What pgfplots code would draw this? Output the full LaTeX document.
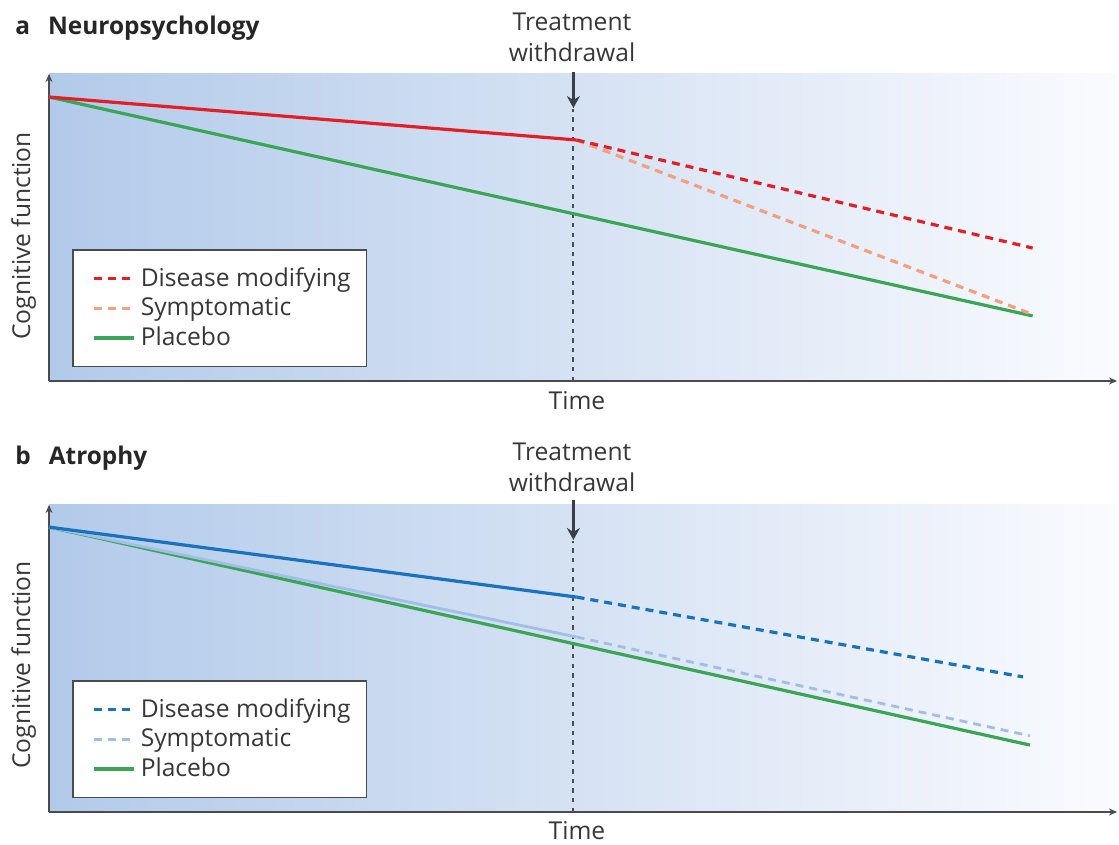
\documentclass[border=0pt]{standalone}
\usepackage{pgfplots}
\pgfplotsset{compat=1.18}
\usepackage{fontspec}
\setmainfont{Open Sans}
\usetikzlibrary{arrows.meta}
\definecolor{dmred}{RGB}{227,30,36}
\definecolor{symorange}{RGB}{244,160,128}
\definecolor{plgreen}{RGB}{58,166,85}
\definecolor{dmblue}{RGB}{24,114,190}
\definecolor{symblue}{RGB}{160,190,230}
\definecolor{axisgray}{RGB}{75,75,78}
\definecolor{arrowgray}{RGB}{58,62,70}
\definecolor{textgray}{RGB}{55,55,55}
\definecolor{bgleft}{RGB}{178,202,234}
\definecolor{bgright}{RGB}{250,251,254}
\pgfplotsset{
  panel/.style={
    scale only axis, width=534pt, height=153.5pt,
    xmin=0, xmax=100, ymin=0, ymax=100,
    axis lines=left,
    axis line style={draw=axisgray, line width=1.1pt, -{Stealth[length=4pt,width=3.5pt]}},
    xtick=\empty, ytick=\empty,
    clip=false,
    axis background/.style={left color=bgleft, right color=bgright},
    legend style={at={(rel axis cs:0.0215,0.43)}, anchor=north west,
      draw=axisgray, line width=0.8pt, fill=white,
      font=\fontsize{12.3}{14}\selectfont, text=textgray,
      inner xsep=6pt, inner ysep=6.75pt, row sep=0.25pt},
    legend cell align=left,
    legend image code/.code={\path[draw=none] (0pt,0pt) (26pt,0pt); \draw[##1] (4.5pt,0pt) -- (24.5pt,0pt);},
  },
  dashedser/.style={line width=1.6pt, dash pattern=on 4pt off 3pt},
  solidser/.style={line width=1.6pt},
  vline/.style={draw=axisgray, line width=0.9pt, dash pattern=on 2.2pt off 2.6pt, forget plot},
  warrow/.style={draw=arrowgray, line width=1.3pt, -{Stealth[length=6pt,width=6.5pt]}, forget plot},
}
\begin{document}
\begin{tikzpicture}
\path[use as bounding box] (0pt,0pt) rectangle (559.5pt,422.5pt);
\tikzset{every node/.style={text=textgray, font=\fontsize{12.3}{15}\selectfont}}
% ---------------- panel a
\begin{axis}[panel, at={(24.5pt,232pt)}, anchor=south west]
\addplot[vline] coordinates {(49.1,0) (49.1,88.5)};
\addplot[warrow] coordinates {(49.1,100.7) (49.1,88.9)};
\addplot[solidser, plgreen, forget plot] coordinates {(0,92.5) (92.1,21.2)};
\addplot[dashedser, symorange, forget plot] coordinates {(49.4,78.5) (91.7,22.2)};
\addplot[solidser, dmred, forget plot] coordinates {(0,92.5) (49.4,78.5)};
\addplot[dashedser, dmred, forget plot] coordinates {(49.4,78.5) (92.1,43.3)};
\addlegendimage{dashedser, dmred}
\addlegendentry{Disease modifying}
\addlegendimage{dashedser, symorange}
\addlegendentry{Symptomatic}
\addlegendimage{solidser, plgreen}
\addlegendentry{Placebo}
\end{axis}
% ---------------- panel b
\begin{axis}[panel, at={(24.5pt,16.5pt)}, anchor=south west]
\addplot[vline] coordinates {(49.1,0) (49.1,88.3)};
\addplot[warrow] coordinates {(49.1,101.6) (49.1,88.6)};
\addplot[solidser, plgreen, forget plot] coordinates {(0,92.8) (91.85,21.8)};
\addplot[solidser, symblue, line width=1.4pt, forget plot] coordinates {(0,92.8) (49.4,57.0)};
\addplot[dashedser, symblue, line width=1.4pt, forget plot] coordinates {(49.4,57.0) (91.85,24.8)};
\addplot[solidser, dmblue, forget plot] coordinates {(0,92.8) (49.4,70.0)};
\addplot[dashedser, dmblue, forget plot] coordinates {(49.4,70.0) (91.2,44.0)};
\addlegendimage{dashedser, dmblue}
\addlegendentry{Disease modifying}
\addlegendimage{dashedser, symblue, line width=1.4pt}
\addlegendentry{Symptomatic}
\addlegendimage{solidser, plgreen}
\addlegendentry{Placebo}
\end{axis}
% ---------------- text
\node[anchor=base west, inner sep=0pt, text=black!85, font=\fontsize{12.2}{14}\selectfont\bfseries] at (7.5pt,405pt) {a\hspace{9pt}Neuropsychology};
\node[anchor=base west, inner sep=0pt, text=black!85, font=\fontsize{12.2}{14}\selectfont\bfseries] at (7.5pt,190pt) {b\hspace{9pt}Atrophy};
\node[anchor=south, align=center, inner sep=0pt] at (286pt,391.5pt) {Treatment\\[0.6pt]withdrawal};
\node[anchor=south, align=center, inner sep=0pt] at (286pt,176.5pt) {Treatment\\[0.6pt]withdrawal};
\node[anchor=base] at (288.5pt,217.5pt) {Time};
\node[anchor=base] at (288.5pt,2.5pt) {Time};
\node[anchor=base, rotate=90] at (15pt,304.5pt) {Cognitive function};
\node[anchor=base, rotate=90] at (15pt,90pt) {Cognitive function};
\end{tikzpicture}
\end{document}
